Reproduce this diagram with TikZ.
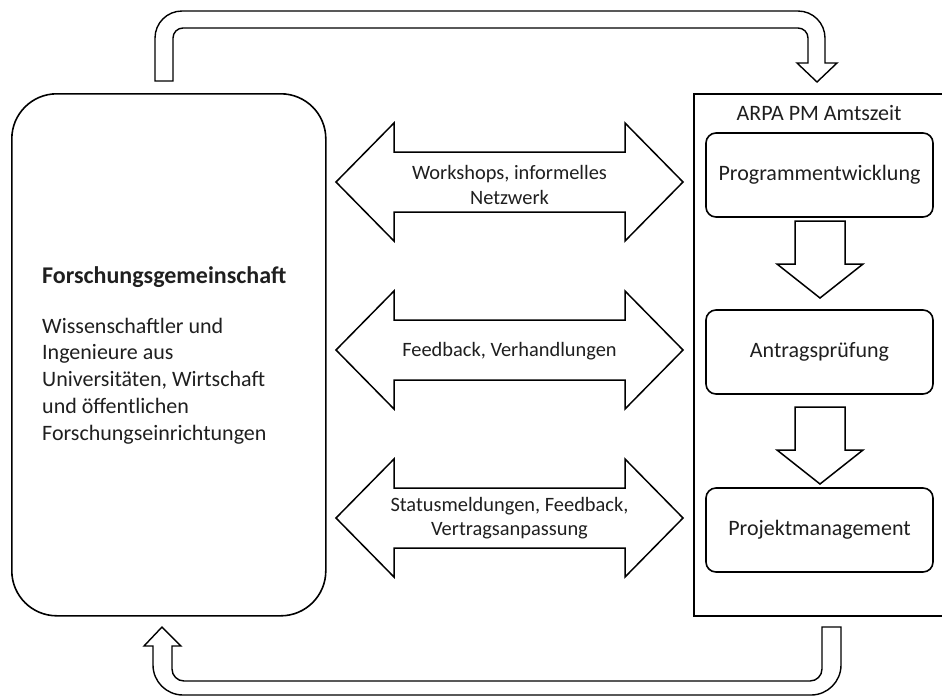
\documentclass[tikz,border=0pt]{standalone}
\usepackage{fontspec}
\setmainfont{Carlito}
\begin{document}
\begin{tikzpicture}[x=1pt,y=-1pt,line join=miter,
  boxline/.style={draw=black,line width=1.6pt},
  blockarrow/.style={draw=black,line width=1.5pt,fill=white},
  looparrow/.style={draw=black,line width=1.4pt,fill=white},
  txt/.style={text=black!88,font=\fontsize{22}{26.8}\selectfont,inner sep=0pt},
  atxt/.style={text=black!88,font=\fontsize{20.4}{24.4}\selectfont,inner sep=0pt,align=center},
  stagebox/.style={boxline,rounded corners=10pt,minimum width=227pt,minimum height=84pt,txt},
  dblarrow/.pic={\draw[blockarrow] (-173.5,0) -- (-115.5,-59) -- (-115.5,-30) -- (115.5,-30) -- (115.5,-59) -- (173.5,0) -- (115.5,59) -- (115.5,30) -- (-115.5,30) -- (-115.5,59) -- cycle;},
  downarrow/.pic={\draw[blockarrow] (-25,0) -- (25,0) -- (25,43) -- (43,43) -- (0,77) -- (-43,43) -- (-25,43) -- cycle;}
]
\useasboundingbox (0,0) rectangle (942,697);

% left community box
\node[boxline,rounded corners=45pt,minimum width=314pt,minimum height=522pt,anchor=north west] (fg) at (11,93) {};
\node[txt,anchor=west,font=\fontsize{24}{28}\selectfont\bfseries] (fgtitle) at (42,277) {Forschungsgemeinschaft};
\node[txt,anchor=west,align=left] (fgbody) at (42,381) {Wissenschaftler und\\Ingenieure aus\\Universitäten, Wirtschaft\\und öffentlichen\\Forschungseinrichtungen};

% right ARPA frame (right edge falls outside the picture)
\node[boxline,minimum width=262pt,minimum height=522pt,anchor=north west] (arpa) at (693,93) {};
\node[txt] (arpatitle) at (819,113) {ARPA PM Amtszeit};
\node[stagebox] (s1) at (819.5,175) {Programmentwicklung};
\node[stagebox] (s2) at (819.5,352) {Antragsprüfung};
\node[stagebox] (s3) at (819.5,530) {Projektmanagement};
\pic at (820,221) {downarrow};
\pic at (820,407) {downarrow};

% double arrows
\pic at (509.5,182) {dblarrow};
\pic at (509.5,350) {dblarrow};
\pic at (509.5,518) {dblarrow};
\node[atxt] (a1) at (509.5,185) {Workshops, informelles\\Netzwerk};
\node[atxt] (a2) at (509.5,351) {Feedback, Verhandlungen};
\node[atxt] (a3) at (509.5,518) {Statusmeldungen, Feedback,\\Vertragsanpassung};

% top loop arrow
\draw[looparrow] (155,81) [rounded corners=27pt] -- (155,11) -- (825,11) [sharp corners] -- (825,63) -- (837,63) -- (817,82) -- (797,63) -- (808,63) [rounded corners=10pt] -- (808,28) -- (173,28) [sharp corners] -- (173,81) -- cycle;

% bottom loop arrow
\draw[looparrow] (153,646) [rounded corners=30pt] -- (153,695) -- (841,695) [sharp corners] -- (841,627) -- (822,627) [rounded corners=12pt] -- (822,681) -- (172,681) [sharp corners] -- (172,646) -- (181,646) -- (162,627) -- (144,646) -- cycle;
\end{tikzpicture}
\end{document}
